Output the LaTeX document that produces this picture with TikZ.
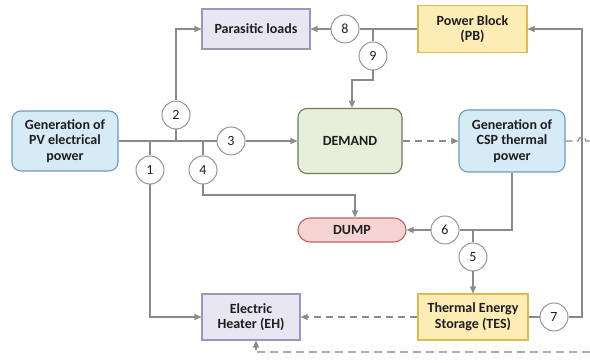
\documentclass[tikz,border=0pt]{standalone}
\usepackage{fontspec}
\setmainfont{Carlito}
\usetikzlibrary{arrows.meta,calc}

\definecolor{linegray}{HTML}{8A8A8A}
\definecolor{blueF}{HTML}{D6EBF5}
\definecolor{blueD}{HTML}{6E9BBA}
\definecolor{lavF}{HTML}{E9E6F3}
\definecolor{lavD}{HTML}{9D96B9}
\definecolor{yelF}{HTML}{FDEDB5}
\definecolor{yelD}{HTML}{E2B94C}
\definecolor{grnF}{HTML}{E7EFDA}
\definecolor{grnD}{HTML}{6D7C55}
\definecolor{pnkF}{HTML}{F5D4D3}
\definecolor{pnkD}{HTML}{C1625F}
\definecolor{txt}{HTML}{1E1E1E}

\tikzset{
  box/.style={draw, line width=1.1pt, align=center, text=txt,
    font=\fontsize{14}{15.5}\selectfont\bfseries, inner sep=1pt},
  bluebox/.style={box, fill=blueF, draw=blueD, rounded corners=9pt},
  lavbox/.style={box, fill=lavF, draw=lavD},
  yelbox/.style={box, fill=yelF, draw=yelD},
  grnbox/.style={box, fill=grnF, draw=grnD, rounded corners=9pt},
  pnkbox/.style={box, fill=pnkF, draw=pnkD, rounded corners=12pt},
  num/.style={circle, draw=linegray!90, fill=white, line width=1pt,
    minimum size=28pt, inner sep=0pt, text=txt,
    font=\fontsize{14}{16}\selectfont},
  wire/.style={draw=linegray, line width=1.2pt},
  arr/.style={wire, -{Triangle[length=7pt,width=6pt]}},
  dashwire/.style={wire, dash pattern=on 7pt off 5pt},
}

\begin{document}
\begin{tikzpicture}[x=1pt,y=-1pt]
\useasboundingbox (0,0) rectangle (590,363);

% blocks
\node[bluebox, minimum width=106pt, minimum height=60pt] (pv)  at (65,141)    {Generation of\\PV electrical\\power};
\node[lavbox,  minimum width=108pt, minimum height=40pt] (par) at (256,29)    {Parasitic loads};
\node[yelbox,  minimum width=109pt, minimum height=47pt] (pb)  at (472.5,29)  {Power Block\\(PB)};
\node[grnbox,  minimum width=104pt, minimum height=65pt] (dem) at (350,141)   {DEMAND};
\node[bluebox, minimum width=106pt, minimum height=62pt] (csp) at (512,141)   {Generation of\\CSP thermal\\power};
\node[pnkbox,  minimum width=108pt, minimum height=24pt] (dump) at (352,230)  {DUMP};
\node[lavbox,  minimum width=98pt,  minimum height=46pt] (eh)  at (251,317)   {Electric\\Heater (EH)};
\node[yelbox,  minimum width=110pt, minimum height=46pt] (tes) at (473,317)   {Thermal Energy\\Storage (TES)};

% numbered flows
\node[num] (c1) at (150,170) {1};
\node[num] (c2) at (176,115) {2};
\node[num] (c3) at (231,141) {3};
\node[num] (c4) at (203,170) {4};
\node[num] (c5) at (473,257) {5};
\node[num] (c6) at (445,230) {6};
\node[num] (c7) at (554,317) {7};
\node[num] (c8) at (345,29)  {8};
\node[num] (c9) at (373,56)  {9};

% junction points
\coordinate (j1) at (150,141);
\coordinate (j2) at (176,141);
\coordinate (j4) at (203,141);
\coordinate (j9) at (373,29);
\coordinate (j5) at (473,230);
\coordinate (k4) at (203,195);
\coordinate (k9) at (373,80);
\coordinate (k7) at (582,317);

% PV distribution
\draw[wire] (pv.east) -- (c3.west);
\draw[arr]  (c3.east) -- (dem.west);
\draw[wire] (j1) -- (c1.north);
\draw[arr]  (c1.south) |- (eh.west);
\draw[wire] (j2) -- (c2.south);
\draw[arr]  (c2.north) |- (par.west);
\draw[wire] (j4) -- (c4.north);
\draw[arr]  (c4.south) -- (k4) -| ($(dump.north)+(3,0)$);

% power block outputs
\draw[wire] (pb.west) -- (c8.east);
\draw[arr]  (c8.west) -- (par.east);
\draw[wire] (j9) -- (c9.north);
\draw[arr]  (c9.south) -- (k9) -| ($(dem.north)+(2,0)$);

% CSP distribution
\draw[arr, dashwire] (dem.east) -- (csp.west);
\draw[wire] (csp.south) |- (c6.east);
\draw[arr]  (c6.west) -- (dump.east);
\draw[wire] (j5) -- (c5.north);
\draw[arr]  (c5.south) -- (tes.north);

% storage discharge
\draw[wire] (tes.east) -- (c7.west);
\draw[arr]  (c7.east) -- (k7) |- (pb.east);
\draw[arr, dashwire] (tes.west) -- (eh.east);

% dashed line leaving CSP, hopping over the return line
\coordinate (h1) at (578,141);
\coordinate (h2) at (590,141);
\draw[wire, dash pattern=on 7pt off 4pt] (csp.east) -- (h1)
  arc[start angle=180, end angle=360, radius=4] -- (h2);

% dashed supply line into the electric heater
\coordinate (b1) at (590,352);
\coordinate (b2) at (256,352);
\draw[draw=linegray!70, line width=2.6pt, dash pattern=on 8pt off 5pt] (b1) -- (b2);
\draw[arr] ($(b2)+(0,-2)$) -- ($(eh.south)+(5,0)$);
\end{tikzpicture}
\end{document}
